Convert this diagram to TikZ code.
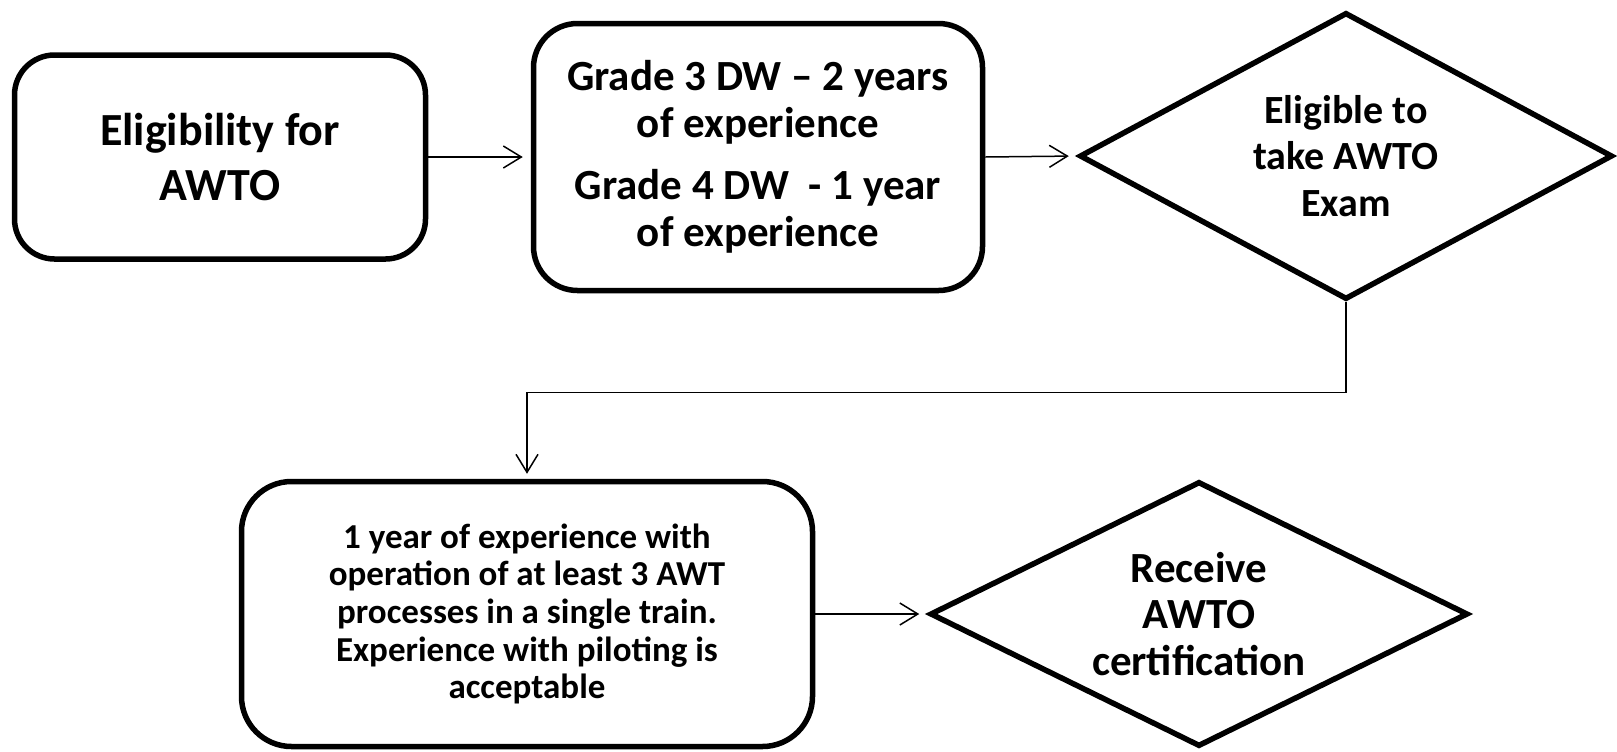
\documentclass[tikz,border=0pt]{standalone}
\usepackage{fontspec}
\setmainfont{Carlito}
\usepackage{tikz}
\usetikzlibrary{arrows.meta,shapes.geometric}
\definecolor{ink}{HTML}{000000}
\tikzset{
  box/.style={draw=ink, line width=2.75pt, rounded corners=20pt, align=center, inner sep=0pt},
  choice/.style={diamond, draw=ink, line width=2.75pt, aspect=2, align=center, inner sep=0pt},
  flow/.style={draw=ink, line width=0.75pt, -{Straight Barb[length=9pt,width=11pt]}, shorten >=4pt},
  big/.style={font=\fontsize{23}{27.5}\selectfont\bfseries},
  mid/.style={font=\fontsize{21.5}{23.25}\selectfont\bfseries},
  small/.style={font=\fontsize{17.5}{18.8}\selectfont\bfseries},
}

\begin{document}
\begin{tikzpicture}[x=0.5pt,y=-0.5pt]
  \useasboundingbox (0,0) rectangle (1617,751);
  \node[box,big,minimum width=205.5pt,minimum height=102pt] (elig) at (220,157)
    {Eligibility for\\AWTO};
  \node[box,mid,rounded corners=22pt,minimum width=224.5pt,minimum height=133.5pt] (grade) at (758,157)
    {Grade 3 DW -- 2 years\\of experience\\[8pt]Grade 4 DW\ \ - 1 year\\of experience};
  \node[choice,mid,font=\fontsize{20}{23.25}\selectfont\bfseries,minimum width=266.5pt,minimum height=143.5pt] (exam) at (1346,156)
    {Eligible to\\take AWTO\\Exam};
  \node[box,small,rounded corners=25pt,minimum width=285.5pt,minimum height=132.5pt] (work) at (527,614)
    {1 year of experience with\\operation of at least 3 AWT\\processes in a single train.\\Experience with piloting is\\acceptable};
  \node[choice,mid,minimum width=269pt,minimum height=132.5pt] (cert) at (1199,614)
    {Receive\\AWTO\\certification};
  \draw[flow] (elig.east) -- (grade.west);
  \draw[flow] (grade.east) -- (exam.west);
  \draw[flow,shorten >=2.5pt] (exam.south) -- ++(0,-45pt) -| (work.north);
  \draw[flow] (work.east) -- (cert.west);
\end{tikzpicture}
\end{document}
